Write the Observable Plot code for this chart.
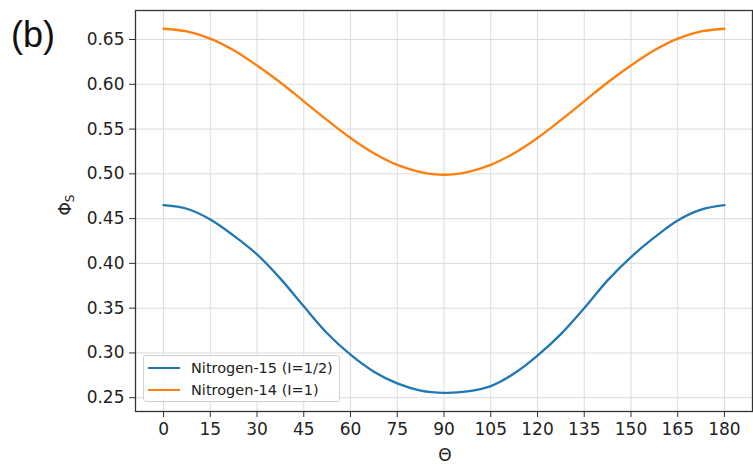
<!DOCTYPE html>
<html>
<head>
<meta charset="utf-8">
<script src="https://cdn.jsdelivr.net/npm/d3@7"></script>
<script src="https://cdn.jsdelivr.net/npm/@observablehq/plot@0.6"></script>
<style>
  html, body { margin: 0; padding: 0; background: #fff; }
  #wrap { position: relative; width: 753px; height: 466px; font-family: "DejaVu Sans", sans-serif; }
  #wrap svg { position: absolute; left: 0; top: 0; }
  #panel { position: absolute; left: 11px; top: 17px; font-family: "Liberation Sans", Arial, sans-serif; font-size: 36px; color: #111; line-height: 1; }
  #legend { position: absolute; left: 143px; top: 355px; width: 197px; height: 47px; border: 1px solid #d0d0d0; border-radius: 3px; background: rgba(255,255,255,0.85); box-sizing: border-box; }
  .item { position: absolute; left: 4px; height: 20px; display: flex; align-items: center; font-size: 14.5px; color: #222; white-space: nowrap; }
  .swatch { width: 32px; height: 0; border-top: 2.4px solid; margin-right: 11px; }
</style>
</head>
<body>
<div id="wrap">
  <div id="panel">(b)</div>
</div>
<script>
// Data
const thetaDeg = [0, 7.5, 15, 22.5, 30, 37.5, 45, 52.5, 60, 67.5, 75, 82.5, 90,
                  97.5, 105, 112.5, 120, 127.5, 135, 142.5, 150, 157.5, 165, 172.5, 180];
const nitrogen15 = [0.465, 0.461, 0.449, 0.431, 0.410, 0.383, 0.352, 0.322, 0.298, 0.279, 0.266, 0.258, 0.2555,
                    0.257, 0.263, 0.277, 0.297, 0.321, 0.350, 0.381, 0.407, 0.429, 0.448, 0.460, 0.465];
const nitrogen14 = [0.662, 0.659, 0.651, 0.638, 0.621, 0.602, 0.581, 0.560, 0.540, 0.523, 0.510, 0.502, 0.499,
                    0.502, 0.510, 0.523, 0.540, 0.560, 0.581, 0.602, 0.621, 0.638, 0.651, 0.659, 0.662];
const seriesNames = ["Nitrogen-15 (I=1/2)", "Nitrogen-14 (I=1)"];
const seriesColors = ["#1f77b4", "#ff7f0e"];
const xTicks = [0, 15, 30, 45, 60, 75, 90, 105, 120, 135, 150, 165, 180];
const yTicks = [0.25, 0.30, 0.35, 0.40, 0.45, 0.50, 0.55, 0.60, 0.65];

const rows = [];
thetaDeg.forEach((t, i) => {
  rows.push({theta: t, phi: nitrogen15[i], series: seriesNames[0]});
});
thetaDeg.forEach((t, i) => {
  rows.push({theta: t, phi: nitrogen14[i], series: seriesNames[1]});
});

const plot = Plot.plot({
  width: 753,
  height: 466,
  marginLeft: 135,
  marginRight: 1,
  marginTop: 10,
  marginBottom: 55,
  style: {fontFamily: "DejaVu Sans, sans-serif", color: "#222", background: "transparent"},
  x: {domain: [-9, 189]},
  y: {domain: [0.2346, 0.6824]},
  color: {domain: seriesNames, range: seriesColors},
  marks: [
    Plot.gridX(xTicks, {stroke: "#dcdcdc", strokeOpacity: 1, strokeWidth: 1}),
    Plot.gridY(yTicks, {stroke: "#dcdcdc", strokeOpacity: 1, strokeWidth: 1}),
    Plot.axisX(xTicks, {tickSize: 6, tickPadding: 5, fontSize: 17, label: null, stroke: "#333"}),
    Plot.axisY(yTicks, {tickSize: 6, tickPadding: 5, fontSize: 17, label: null, tickFormat: d3.format(".2f"), stroke: "#333"}),
    Plot.line(rows, {x: "theta", y: "phi", z: "series", stroke: "series", strokeWidth: 2.3, curve: "catmull-rom"}),
    Plot.frame({stroke: "#333", strokeWidth: 1.3})
  ]
});

const wrap = document.getElementById("wrap");
wrap.appendChild(plot);

const svg = d3.select(plot);
// x axis label
svg.append("text")
  .attr("x", 445).attr("y", 461)
  .attr("text-anchor", "middle")
  .attr("font-size", 17)
  .attr("fill", "#222")
  .text("Θ");
// y axis label with subscript
const yl = svg.append("text")
  .attr("transform", "translate(71,205) rotate(-90)")
  .attr("text-anchor", "middle")
  .attr("font-size", 17)
  .attr("fill", "#222");
yl.append("tspan").text("Φ");
yl.append("tspan").attr("font-size", 12).attr("dy", 3).text("S");

// legend
const legend = document.createElement("div");
legend.id = "legend";
seriesNames.forEach((name, i) => {
  const it = document.createElement("div");
  it.className = "item";
  it.style.top = (i === 0 ? 2 : 24) + "px";
  const sw = document.createElement("span");
  sw.className = "swatch";
  sw.style.borderColor = seriesColors[i];
  const tx = document.createElement("span");
  tx.textContent = name;
  it.appendChild(sw);
  it.appendChild(tx);
  legend.appendChild(it);
});
wrap.appendChild(legend);
</script>
</body>
</html>
